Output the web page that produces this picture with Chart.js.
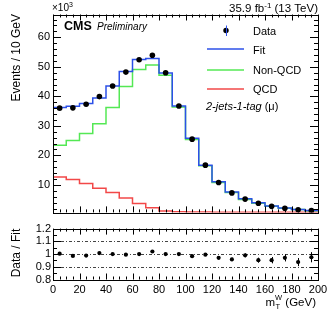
<!DOCTYPE html>
<html>
<head>
<meta charset="utf-8">
<script src="https://cdn.jsdelivr.net/npm/chart.js@4.4.1/dist/chart.umd.min.js"></script>
<style>
html, body { margin: 0; padding: 0; background: #fff; }
#wrap { position: relative; width: 332px; height: 318px; overflow: hidden; }
#main { position: absolute; left: 0; top: 0; }
#ratio { position: absolute; left: 0; top: 220px; }
</style>
</head>
<body>
<div id="wrap">
  <canvas id="main" width="332" height="222"></canvas>
  <canvas id="ratio" width="332" height="98"></canvas>
</div>
<script>
// bins of m_T^W, 10 GeV wide
const binLow = [0, 10, 20, 30, 40, 50, 60, 70, 80, 90, 100, 110, 120, 130, 140, 150, 160, 170, 180, 190];
const binCenter = [5, 15, 25, 35, 45, 55, 65, 75, 85, 95, 105, 115, 125, 135, 145, 155, 165, 175, 185, 195];
const xMax = 200;

// events / 10 GeV, in units of 10^3
const dataVals = [36.0, 36.1, 37.3, 39.9, 43.5, 48.2, 52.4, 53.9, 48.0, 36.7, 25.5, 16.7, 10.8, 7.3, 5.2, 3.8, 2.75, 2.1, 1.6, 1.3];
const dataErr = [0.19, 0.19, 0.19, 0.2, 0.21, 0.22, 0.23, 0.23, 0.22, 0.19, 0.16, 0.13, 0.1, 0.09, 0.07, 0.06, 0.05, 0.05, 0.04, 0.04];
const fitVals = [36.2, 36.6, 37.6, 39.4, 43.5, 48.4, 52.5, 52.8, 47.9, 36.7, 25.8, 16.7, 11.1, 7.6, 5.3, 4.0, 2.9, 2.2, 1.7, 1.35];
const nonQcdVals = [23.4, 25.0, 27.4, 30.7, 36.2, 43.3, 49.1, 50.6, 47.1, 36.4, 25.4, 16.5, 10.8, 7.4, 5.1, 3.8, 2.8, 2.1, 1.65, 1.3];
const qcdVals = [12.7, 11.8, 10.5, 8.9, 7.4, 5.6, 3.7, 2.3, 1.2, 0.9, 0.8, 0.8, 0.78, 0.78, 0.76, 0.76, 0.75, 0.75, 0.75, 0.75];

// data / fit
const ratioVals = [1.003, 0.985, 0.988, 1.008, 1.0, 0.995, 1.0, 1.02, 1.0, 1.0, 0.983, 0.995, 0.97, 0.958, 0.99, 0.952, 0.952, 0.97, 0.937, 0.975];
const ratioErr = [0.006, 0.006, 0.006, 0.006, 0.006, 0.006, 0.005, 0.005, 0.005, 0.006, 0.007, 0.009, 0.011, 0.013, 0.015, 0.02, 0.025, 0.028, 0.032, 0.04];
const ratioLines = [0.9, 1.0, 1.1];

const FONT = "'Liberation Sans', Arial, Helvetica, sans-serif";
const BLUE = 'rgb(44, 80, 232)';
const GREEN = 'rgb(84, 232, 84)';
const RED = 'rgb(242, 72, 72)';

function histPoints(vals) {
    const pts = binLow.map((x, i) => ({ x: x, y: vals[i] }));
    pts.push({ x: xMax, y: vals[vals.length - 1] });
    return pts;
}

function histSet(vals, color) {
    return {
        type: 'line', data: histPoints(vals), stepped: 'before',
        borderColor: color, borderWidth: 1.5, pointRadius: 0, fill: false
    };
}

// frame + inward ticks on all four sides, ROOT style
function frameTicks(opt) {
    return {
        id: 'frameTicks',
        afterDraw(chart) {
            const ctx = chart.ctx, a = chart.chartArea;
            const xs = chart.scales.x, ys = chart.scales.y;
            ctx.save();
            ctx.strokeStyle = '#000';
            ctx.lineWidth = 1;
            ctx.beginPath();
            for (let v = 0; v <= xMax + 0.001; v += opt.xMinor) {
                const px = Math.round(xs.getPixelForValue(v)) + 0.5;
                const major = Math.abs(v / opt.xMajor - Math.round(v / opt.xMajor)) < 1e-6;
                const len = major ? opt.xMajLen : opt.xMinLen;
                ctx.moveTo(px, a.bottom); ctx.lineTo(px, a.bottom - len);
                ctx.moveTo(px, a.top); ctx.lineTo(px, a.top + len);
            }
            for (let v = opt.yStart; v <= ys.max + 1e-6; v += opt.yMinor) {
                if (v < ys.min - 1e-6) continue;
                const py = Math.round(ys.getPixelForValue(v)) + 0.5;
                const major = Math.abs(v / opt.yMajor - Math.round(v / opt.yMajor)) < 1e-6;
                const len = major ? opt.yMajLen : opt.yMinLen;
                ctx.moveTo(a.left, py); ctx.lineTo(a.left + len, py);
                ctx.moveTo(a.right, py); ctx.lineTo(a.right - len, py);
            }
            ctx.stroke();
            ctx.strokeRect(Math.round(a.left) + 0.5, Math.round(a.top) + 0.5,
                Math.round(a.right - a.left), Math.round(a.bottom - a.top));
            ctx.restore();
        }
    };
}

function errorBars(vals, errs) {
    return {
        id: 'errorBars',
        afterDatasetsDraw(chart) {
            const ctx = chart.ctx, xs = chart.scales.x, ys = chart.scales.y;
            ctx.save();
            ctx.strokeStyle = '#000';
            ctx.lineWidth = 1;
            ctx.beginPath();
            binCenter.forEach((c, i) => {
                const px = Math.round(xs.getPixelForValue(c)) + 0.5;
                ctx.moveTo(px, ys.getPixelForValue(vals[i] - errs[i]));
                ctx.lineTo(px, ys.getPixelForValue(vals[i] + errs[i]));
            });
            ctx.stroke();
            ctx.restore();
        }
    };
}

const mainText = {
    id: 'mainText',
    afterDraw(chart) {
        const ctx = chart.ctx;
        ctx.save();
        ctx.fillStyle = '#000';
        ctx.textBaseline = 'alphabetic';
        // x10^3
        ctx.font = '10px ' + FONT;
        ctx.textAlign = 'left';
        ctx.fillText('\u00d710', 52, 11);
        let w = ctx.measureText('\u00d710').width;
        ctx.font = '7px ' + FONT;
        ctx.fillText('3', 52 + w, 7);
        // lumi label
        ctx.font = '11.5px ' + FONT;
        const a1 = '35.9 fb', a3 = ' (13 TeV)';
        const w1 = ctx.measureText(a1).width, w3 = ctx.measureText(a3).width;
        ctx.font = '8px ' + FONT;
        const w2 = ctx.measureText('-1').width;
        let x0 = 318 - w1 - w2 - w3;
        ctx.font = '11.5px ' + FONT;
        ctx.fillText(a1, x0, 12);
        ctx.fillText(a3, x0 + w1 + w2, 12);
        ctx.font = '8px ' + FONT;
        ctx.fillText('-1', x0 + w1, 7.5);
        // CMS Preliminary
        ctx.font = 'bold 12.5px ' + FONT;
        ctx.fillText('CMS', 64, 29.5);
        ctx.font = 'italic 10px ' + FONT;
        ctx.fillText('Preliminary', 97, 29.5);
        // legend
        ctx.font = '11px ' + FONT;
        ctx.fillText('Data', 253, 35);
        ctx.fillText('Fit', 253, 53.5);
        ctx.fillText('Non-QCD', 253, 74);
        ctx.fillText('QCD', 253, 93);
        ctx.beginPath();
        ctx.arc(226, 30.5, 2.7, 0, Math.PI * 2);
        ctx.fill();
        ctx.strokeStyle = BLUE;
        ctx.lineWidth = 1;
        ctx.beginPath();
        ctx.moveTo(226.5, 25.5); ctx.lineTo(226.5, 36);
        ctx.stroke();
        ctx.lineWidth = 1.4;
        [[BLUE, 49], [GREEN, 70], [RED, 89]].forEach(([c, y]) => {
            ctx.strokeStyle = c;
            ctx.beginPath();
            ctx.moveTo(207, y); ctx.lineTo(244, y);
            ctx.stroke();
        });
        // category label
        ctx.font = 'italic 11px ' + FONT;
        ctx.fillText('2-jets-1-tag', 206, 110);
        const wc = ctx.measureText('2-jets-1-tag ').width;
        ctx.font = '11px ' + FONT;
        ctx.fillText('(\u03bc)', 206 + wc, 110);
        // y title
        ctx.translate(17, 14);
        ctx.rotate(-Math.PI / 2);
        ctx.font = '12px ' + FONT;
        ctx.textAlign = 'right';
        ctx.textBaseline = 'middle';
        ctx.fillText('Events / 10 GeV', 0, 0);
        ctx.restore();
    }
};

const ratioText = {
    id: 'ratioText',
    beforeDatasetsDraw(chart) {
        const ctx = chart.ctx, a = chart.chartArea, ys = chart.scales.y;
        ctx.save();
        ctx.strokeStyle = '#444';
        ctx.lineWidth = 1;
        ctx.setLineDash([3, 2, 1, 2]);
        ctx.beginPath();
        ratioLines.forEach(v => {
            const py = Math.round(ys.getPixelForValue(v)) + 0.5;
            ctx.moveTo(a.left, py); ctx.lineTo(a.right, py);
        });
        ctx.stroke();
        ctx.restore();
    },
    afterDraw(chart) {
        const ctx = chart.ctx;
        ctx.save();
        ctx.fillStyle = '#000';
        // x title m_T^W (GeV)
        ctx.font = '11.5px ' + FONT;
        const wm = ctx.measureText('m').width, wg = ctx.measureText(' (GeV)').width;
        ctx.font = '7.5px ' + FONT;
        const ws = ctx.measureText('W').width;
        const x0 = 316 - wm - ws - wg;
        ctx.font = '11.5px ' + FONT;
        ctx.fillText('m', x0, 86);
        ctx.fillText(' (GeV)', x0 + wm + ws, 86);
        ctx.font = '7.5px ' + FONT;
        ctx.fillText('W', x0 + wm, 80);
        ctx.fillText('T', x0 + wm + 0.5, 89);
        // y title
        ctx.translate(17, 33);
        ctx.rotate(-Math.PI / 2);
        ctx.font = '12px ' + FONT;
        ctx.textAlign = 'center';
        ctx.textBaseline = 'middle';
        ctx.fillText('Data / Fit', 0, 0);
        ctx.restore();
    }
};

new Chart(document.getElementById('main'), {
    type: 'line',
    data: {
        datasets: [
            { type: 'scatter', data: binCenter.map((c, i) => ({ x: c, y: dataVals[i] })),
              pointRadius: 2.8, pointBackgroundColor: '#000', pointBorderWidth: 0, showLine: false },
            histSet(fitVals, BLUE),
            histSet(nonQcdVals, GREEN),
            histSet(qcdVals, RED)
        ]
    },
    options: {
        responsive: false, animation: false,
        layout: { padding: { left: 0, right: 14, top: 14.5, bottom: 2.5 } },
        plugins: { legend: { display: false }, tooltip: { enabled: false } },
        scales: {
            x: { type: 'linear', min: 0, max: xMax,
                 grid: { display: false, drawTicks: false }, border: { display: false },
                 ticks: { display: false },
                 afterFit(s) { s.height = 0; } },
            y: { min: 0.7, max: 67.7,
                 grid: { display: false, drawTicks: false }, border: { display: false },
                 ticks: { stepSize: 10, padding: 3, autoSkip: false, color: '#000',
                          font: { family: FONT, size: 11 },
                          callback: v => (v > 5 && Math.abs(v % 10) < 1e-6) ? String(v) : '' },
                 afterFit(s) { s.width = 53; } }
        }
    },
    plugins: [frameTicks({ xMinor: 5, xMajor: 20, xMajLen: 6, xMinLen: 3,
                           yStart: 0, yMinor: 2, yMajor: 10, yMajLen: 8, yMinLen: 4 }),
              errorBars(dataVals, dataErr), mainText]
});

new Chart(document.getElementById('ratio'), {
    type: 'scatter',
    data: {
        datasets: [
            { data: binCenter.map((c, i) => ({ x: c, y: ratioVals[i] })),
              pointRadius: 2.1, pointBackgroundColor: '#000', pointBorderWidth: 0 }
        ]
    },
    options: {
        responsive: false, animation: false,
        layout: { padding: { left: 0, right: 14, top: 6.5, bottom: 0 } },
        plugins: { legend: { display: false }, tooltip: { enabled: false } },
        scales: {
            x: { type: 'linear', min: 0, max: xMax,
                 grid: { display: false, drawTicks: false }, border: { display: false },
                 ticks: { stepSize: 20, padding: 4, autoSkip: false, maxRotation: 0, color: '#000',
                          font: { family: FONT, size: 11 } },
                 afterFit(s) { s.height = 38.5; } },
            y: { min: 0.8, max: 1.2,
                 grid: { display: false, drawTicks: false }, border: { display: false },
                 ticks: { stepSize: 0.1, padding: 2, autoSkip: false, color: '#000',
                          font: { family: FONT, size: 11 },
                          callback: v => String(Math.round(v * 10) / 10) },
                 afterFit(s) { s.width = 53; } }
        }
    },
    plugins: [frameTicks({ xMinor: 5, xMajor: 20, xMajLen: 6, xMinLen: 3,
                           yStart: 0.8, yMinor: 0.05, yMajor: 0.1, yMajLen: 8, yMinLen: 4 }),
              errorBars(ratioVals, ratioErr), ratioText]
});
</script>
</body>
</html>
